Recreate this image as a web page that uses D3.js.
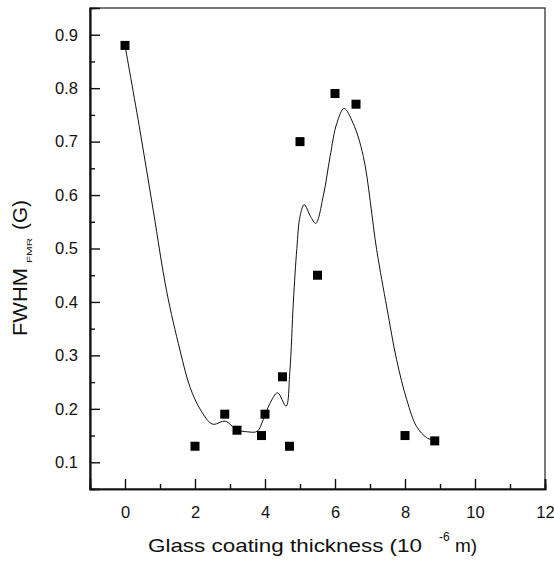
<!DOCTYPE html>
<html>
<head>
<meta charset="utf-8">
<script src="https://cdn.jsdelivr.net/npm/d3@7"></script>
<style>
  body { margin: 0; background: #fff; }
  svg text { font-family: "Liberation Sans", Arial, Helvetica, sans-serif; fill: #111; }
</style>
</head>
<body>
<svg id="chart" width="554" height="566"></svg>
<script>
// measured points (thickness in 1e-6 m, FWHM in G)
const thickness = [0, 2.0, 2.85, 3.2, 3.9, 4.0, 4.5, 4.7, 5.0, 5.5, 6.0, 6.6, 8.0, 8.85];
const fwhm = [0.88, 0.13, 0.19, 0.16, 0.15, 0.19, 0.26, 0.13, 0.70, 0.45, 0.79, 0.77, 0.15, 0.14];

// smooth fit curve
const fitX = [0, 0.43, 0.81, 1.19, 1.57, 1.86, 2.14, 2.43, 2.55, 2.86, 3.19, 3.5, 3.78, 3.95, 4.14, 4.36, 4.6,
  4.71, 4.81, 4.91, 5.0, 5.12, 5.3, 5.45, 5.67, 5.86, 6.05, 6.26, 6.52, 6.81, 7.19, 7.48, 7.76, 8.05, 8.33, 8.62, 8.85];
const fitY = [0.88, 0.72, 0.57, 0.42, 0.31, 0.24, 0.20, 0.174, 0.171, 0.177, 0.161, 0.157, 0.158, 0.18, 0.21, 0.23, 0.205,
  0.27, 0.40, 0.50, 0.56, 0.582, 0.56, 0.547, 0.60, 0.672, 0.734, 0.762, 0.734, 0.672, 0.498, 0.39, 0.292, 0.217, 0.167, 0.146, 0.14];

const xMajor = [0, 2, 4, 6, 8, 10, 12];
const xMinor = [1, 3, 5, 7, 9, 11];
const yMajor = [0.1, 0.2, 0.3, 0.4, 0.5, 0.6, 0.7, 0.8, 0.9];
const yMinor = [0.15, 0.25, 0.35, 0.45, 0.55, 0.65, 0.75, 0.85];

const svg = d3.select('#chart');
const plotLeft = 90, plotRight = 545, plotTop = 8, plotBottom = 489;

const x = d3.scaleLinear().domain([-1, 12]).range([plotLeft, plotRight]);
const y = d3.scaleLinear().domain([0.05, 0.95]).range([plotBottom, plotTop]);

// frame
svg.append('rect')
  .attr('x', plotLeft).attr('y', plotTop)
  .attr('width', plotRight - plotLeft).attr('height', plotBottom - plotTop)
  .attr('fill', 'none').attr('stroke', '#222').attr('stroke-width', 1.2);

// bottom axis, ticks pointing in
svg.append('g').attr('transform', `translate(0,${plotBottom})`)
  .call(d3.axisBottom(x).tickValues(xMajor).tickSize(-10).tickPadding(17).tickFormat(d3.format('d')));
svg.append('g').attr('transform', `translate(0,${plotBottom})`)
  .call(d3.axisBottom(x).tickValues(xMinor).tickSize(-5).tickFormat(''));

svg.append('g').attr('transform', `translate(${plotLeft},0)`)
  .call(d3.axisLeft(y).tickValues(yMajor).tickSize(-10).tickPadding(12).tickFormat(d3.format('.1f')));
svg.append('g').attr('transform', `translate(${plotLeft},0)`)
  .call(d3.axisLeft(y).tickValues(yMinor).tickSize(-5).tickFormat(''));

svg.selectAll('.domain').attr('stroke', '#111').attr('stroke-width', 1.7);
svg.selectAll('.tick line').attr('stroke', '#111').attr('stroke-width', 1.4);
svg.selectAll('.tick text').attr('font-size', 16.5).attr('fill', '#111');

// fit curve
const fitData = fitX.map((d, i) => [d, fitY[i]]);
svg.append('path')
  .datum(fitData)
  .attr('fill', 'none')
  .attr('stroke', '#111')
  .attr('stroke-width', 1)
  .attr('d', d3.line().x(d => x(d[0])).y(d => y(d[1])).curve(d3.curveCatmullRom.alpha(0.5)));

// square markers
const ms = 9;
svg.append('g').selectAll('rect')
  .data(thickness.map((d, i) => [d, fwhm[i]]))
  .join('rect')
  .attr('x', d => x(d[0]) - ms / 2)
  .attr('y', d => y(d[1]) - ms / 2)
  .attr('width', ms).attr('height', ms)
  .attr('fill', '#000');

// x title
svg.append('text').attr('x', 148).attr('y', 552).attr('font-size', 19)
  .attr('textLength', 274).attr('lengthAdjust', 'spacingAndGlyphs')
  .text('Glass coating thickness (10');
svg.append('text').attr('x', 439).attr('y', 541).attr('font-size', 12).text('-6');
svg.append('text').attr('x', 455).attr('y', 552).attr('font-size', 19).text('m)');

// y title (rotated)
svg.append('text').attr('transform', 'translate(27,336) rotate(-90)').attr('font-size', 20)
  .attr('textLength', 68).attr('lengthAdjust', 'spacingAndGlyphs').text('FWHM');
svg.append('text').attr('transform', 'translate(32,263) rotate(-90)').attr('font-size', 7.5)
  .attr('textLength', 25).attr('lengthAdjust', 'spacingAndGlyphs').text('FMR');
svg.append('text').attr('transform', 'translate(27,230) rotate(-90)').attr('font-size', 20)
  .attr('textLength', 30).attr('lengthAdjust', 'spacingAndGlyphs').text('(G)');
</script>
</body>
</html>
